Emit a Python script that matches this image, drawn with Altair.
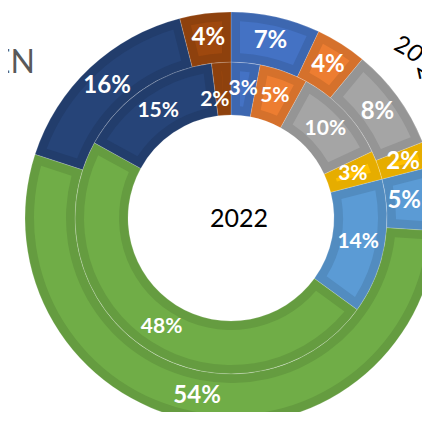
import altair as alt
import pandas as pd

# ---- data ----
categories = ["S1", "S2", "S3", "S4", "S5", "S6", "S7", "S8"]
outer_values = [7, 4, 8, 2, 5, 54, 16, 4]      # outer ring (%)
inner_values = [3, 5, 10, 3, 14, 48, 15, 2]    # inner ring 2022 (%)
light_colors = ["#4472C4", "#ED7D31", "#A5A5A5", "#FFC000",
                "#5B9BD5", "#70AD47", "#264478", "#9E480E"]
dark_colors = ["#3D67B0", "#D5712C", "#959595", "#E6AD00",
               "#528CC0", "#659C40", "#223D6C", "#8E410D"]
center_label = "2022"
left_title = "EN"
arc_title_chars = ["2", "0", "2"]
arc_title_rot = [28, 42, 78]

rows = []
for ring, vals in (("outer", outer_values), ("inner", inner_values)):
    for i, (c, v) in enumerate(zip(categories, vals)):
        rows.append({"ring": ring, "cat": c, "idx": i, "value": v,
                     "light": light_colors[i], "dark": dark_colors[i],
                     "label": f"{v}%"})
df = pd.DataFrame(rows)

CX, CY = 223, 210
theta = alt.Theta("value:Q", stack=True, scale=alt.Scale(domain=[0, 100]))
order = alt.Order("idx:O", sort="ascending")
pos = dict(x=alt.value(CX), y=alt.value(CY))

# label nudges (style only): (ring, idx) -> (dx, dy)
nudges = {("inner", 7): (-8, 11), ("outer", 4): (-7, 0)}

base = alt.Chart(df)

def ring_layers(ring, r0, r1, inset, pad, fsize):
    b = base.transform_filter(alt.datum.ring == ring)
    dark = b.mark_arc(innerRadius=r0, outerRadius=r1, stroke="#ffffff",
                      strokeWidth=0.5, strokeOpacity=0.35).encode(
        theta=theta, order=order, color=alt.Color("dark:N", scale=None), **pos)
    light = b.mark_arc(innerRadius=r0 + inset, outerRadius=r1 - inset,
                       padAngle=pad).encode(
        theta=theta, order=order, color=alt.Color("light:N", scale=None), **pos)
    txt_kw = dict(radius=(r0 + r1) / 2, font="Lato", fontWeight="bold",
                  fontSize=fsize, color="white", align="center",
                  baseline="middle")
    special = [i for (rg, i) in nudges if rg == ring]
    is_special = alt.FieldOneOfPredicate(field="idx", oneOf=special) if special else None
    out = [dark, light]
    if special:
        out.append(b.mark_text(**txt_kw).encode(
            theta=theta, order=order,
            text=alt.condition(is_special, alt.value(""), "label:N"), **pos))
        for i in special:
            dx, dy = nudges[(ring, i)]
            out.append(b.mark_text(dx=dx, dy=dy, **txt_kw).encode(
                theta=theta, order=order,
                text=alt.condition(alt.datum.idx == i, "label:N", alt.value("")),
                **pos))
    else:
        out.append(b.mark_text(**txt_kw).encode(
            theta=theta, order=order, text="label:N", **pos))
    return out

layers = []
layers += ring_layers("inner", 103, 156, 9, 0.097, 21)
layers += ring_layers("outer", 156, 206, 9, 0.07, 24)

center = alt.Chart(pd.DataFrame({"t": [center_label]})).mark_text(
    font="Lato", fontSize=25, color="black", align="center", baseline="middle"
).encode(text="t:N", x=alt.value(231), y=alt.value(211))

title_left = alt.Chart(pd.DataFrame({"t": [left_title]})).mark_text(
    font="Lato", fontSize=32, color="#595959", align="right",
    baseline="alphabetic"
).encode(text="t:N", x=alt.value(27), y=alt.value(65))

arc_df = pd.DataFrame({"ch": arc_title_chars, "rot": arc_title_rot,
                       "px": [394, 406, 417], "py": [38, 46, 64]})
arc_title = alt.Chart(arc_df).mark_text(
    font="Lato", fontSize=24, color="black", align="center", baseline="middle"
).encode(text="ch:N",
         x=alt.X("px:Q", scale=None), y=alt.Y("py:Q", scale=None),
         angle=alt.Angle("rot:Q", scale=None))

chart = alt.layer(*layers, center, title_left, arc_title).properties(
    width=414, height=404, padding=0, autosize="none"
).configure_view(stroke=None)

chart.save("out.html", embed_options={"renderer": "svg", "actions": False})
